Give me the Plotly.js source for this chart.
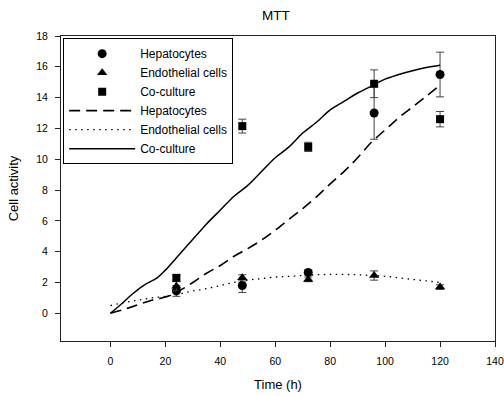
<!DOCTYPE html>
<html>
<head>
<meta charset="utf-8">
<script src="https://cdn.plot.ly/plotly-3.0.1.min.js"></script>
<style>html,body{margin:0;padding:0;background:#fff;}#chart{width:504px;height:396px;}</style>
</head>
<body>
<div id="chart"></div>
<script>
// Measured points (time in hours)
const timePoints = [24, 48, 72, 96, 120];
const hepatocytesY = [1.45, 1.8, 2.65, 13.0, 15.5];
const hepatocytesErr = [0.35, 0.45, 0.15, 1.7, 1.45];
const endothelialY = [1.75, 2.3, 2.2, 2.45, 1.7];
const endothelialErr = [0.3, 0.2, 0.15, 0.3, 0.15];
const coCultureY = [2.3, 12.15, 10.8, 14.9, 12.6];
const coCultureErr = [0.15, 0.45, 0.3, 0.9, 0.5];

// Model curves
const curveX = [0, 5, 10, 15, 20, 25, 30, 35, 40, 45, 50, 55, 60, 65, 70, 75, 80, 85, 90, 95, 100, 105, 110, 115, 120];
const hepCurveY = [0, 0.25, 0.55, 0.85, 1.05, 1.45, 2.0, 2.6, 3.1, 3.7, 4.2, 4.75, 5.4, 6.1, 6.8, 7.55, 8.4, 9.2, 10.1, 11.1, 11.9, 12.7, 13.4, 14.1, 14.8];
const endoCurveY = [0.5, 0.7, 0.85, 1.0, 1.1, 1.25, 1.45, 1.6, 1.8, 2.0, 2.15, 2.25, 2.35, 2.4, 2.45, 2.5, 2.52, 2.52, 2.5, 2.45, 2.4, 2.3, 2.2, 2.1, 2.0];
const coCurveX = [0, 4, 8, 12, 17, 20, 25, 30, 35, 40, 45, 50, 55, 60, 65, 70, 75, 80, 85, 90, 95, 100, 105, 110, 115, 120];
const coCurveY = [0, 0.6, 1.25, 1.8, 2.3, 2.8, 3.8, 4.8, 5.8, 6.7, 7.6, 8.3, 9.2, 10.1, 10.8, 11.7, 12.4, 13.2, 13.75, 14.3, 14.75, 15.2, 15.5, 15.75, 15.95, 16.1];

const xTicks = [0, 20, 40, 60, 80, 100, 120, 140];
const yTicks = [0, 2, 4, 6, 8, 10, 12, 14, 16, 18];

const errStyle = (arr) => ({type: 'data', array: arr, visible: true, color: '#444', thickness: 1, width: 4});

const traces = [
  {x: timePoints, y: hepatocytesY, name: 'Hepatocytes', type: 'scatter', mode: 'markers',
   marker: {symbol: 'circle', size: 9, color: '#000'}, error_y: errStyle(hepatocytesErr)},
  {x: timePoints, y: endothelialY, name: 'Endothelial cells', type: 'scatter', mode: 'markers',
   marker: {symbol: 'triangle-up', size: 9, color: '#000'}, error_y: errStyle(endothelialErr)},
  {x: timePoints, y: coCultureY, name: 'Co-culture', type: 'scatter', mode: 'markers',
   marker: {symbol: 'square', size: 8, color: '#000'}, error_y: errStyle(coCultureErr)},
  {x: curveX, y: hepCurveY, name: 'Hepatocytes', type: 'scatter', mode: 'lines',
   line: {color: '#000', width: 1.6, dash: '11px,6px', shape: 'spline'}},
  {x: curveX, y: endoCurveY, name: 'Endothelial cells', type: 'scatter', mode: 'lines',
   line: {color: '#000', width: 1.3, dash: '1.5px,4.5px', shape: 'spline'}},
  {x: coCurveX, y: coCurveY, name: 'Co-culture', type: 'scatter', mode: 'lines',
   line: {color: '#000', width: 1.5, shape: 'spline'}}
];

const font = {family: 'Liberation Sans, Arial, sans-serif', color: '#000'};

const layout = {
  width: 504, height: 396,
  margin: {l: 61, r: 9, t: 36, b: 55},
  paper_bgcolor: '#fff', plot_bgcolor: '#fff',
  font: Object.assign({size: 10}, font),
  showlegend: true,
  title: {text: 'MTT', font: Object.assign({size: 13.5}, font), x: 0.495, xref: 'paper', xanchor: 'center', y: 0.962, yanchor: 'middle'},
  xaxis: {
    range: [-18, 140], tickvals: xTicks, ticktext: xTicks.map(String),
    showgrid: false, zeroline: false, showline: true, linecolor: '#222', linewidth: 1, mirror: true,
    ticks: 'outside', ticklen: 5, tickcolor: '#222', tickfont: Object.assign({size: 10.5}, font),
    ticklabelstandoff: 5,
    title: {text: 'Time (h)', font: Object.assign({size: 13}, font), standoff: 14}
  },
  yaxis: {
    range: [-1.8, 18], tickvals: yTicks, ticktext: yTicks.map(String),
    showgrid: false, zeroline: false, showline: true, linecolor: '#222', linewidth: 1, mirror: true,
    ticks: 'outside', ticklen: 5, tickcolor: '#222', tickfont: Object.assign({size: 10.5}, font),
    ticklabelstandoff: 5,
    title: {text: 'Cell activity', font: Object.assign({size: 13}, font), standoff: 14}
  },
  legend: {
    x: 0.005, y: 0.993, xanchor: 'left', yanchor: 'top',
    bordercolor: '#000', borderwidth: 1, bgcolor: '#fff',
    font: Object.assign({size: 12}, font),
    itemwidth: 66, tracegroupgap: 0
  }
};

Plotly.newPlot('chart', traces, layout, {staticPlot: true, displayModeBar: false});
</script>
</body>
</html>
